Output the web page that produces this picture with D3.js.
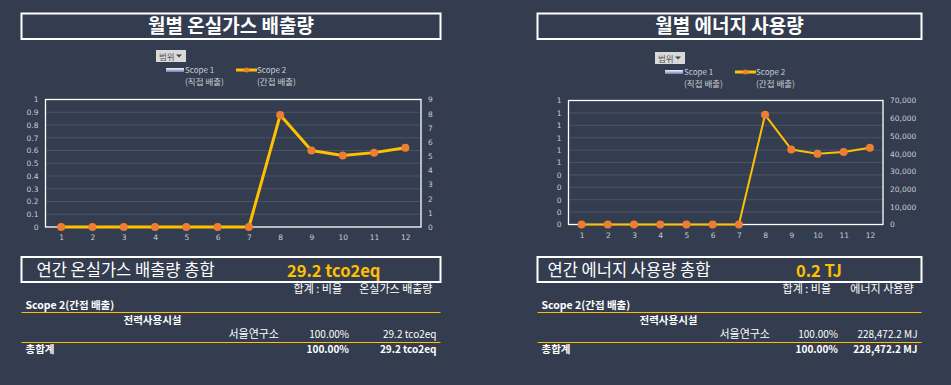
<!DOCTYPE html>
<html>
<head>
<meta charset="UTF-8"/>
<style>
  body { margin: 0; background: #333d4f; }
  svg { display: block; font-family: "Noto Sans CJK KR", "Noto Sans", sans-serif; }
</style>
</head>
<body>
<script src="https://d3js.org/d3.v7.min.js"></script>
<script>
// months on the x axis
const months = ["1", "2", "3", "4", "5", "6", "7", "8", "9", "10", "11", "12"];

// monthly GHG emissions, Scope 2 (tco2eq) - Scope 1 has no data
const ghgScope2 = [0, 0, 0, 0, 0, 0, 0, 7.9, 5.4, 5.05, 5.25, 5.6];
// monthly energy use, Scope 2 (MJ)
const energyScope2 = [0, 0, 0, 0, 0, 0, 0, 61900, 42400, 40000, 40900, 43272.2];

// left axis tick labels (Scope 1 axis, 0..1 step 0.1)
const ghgLeftTicks = ["0", "0.1", "0.2", "0.3", "0.4", "0.5", "0.6", "0.7", "0.8", "0.9", "1"];
const energyLeftTicks = ["0", "0", "0", "0", "0", "1", "1", "1", "1", "1", "1"];
// right axis ticks
const ghgRightTicks = [0, 1, 2, 3, 4, 5, 6, 7, 8, 9];
const energyRightTicks = [0, 10000, 20000, 30000, 40000, 50000, 60000, 70000];

const titles = ["월별 온실가스 배출량", "월별 에너지 사용량"];
const totalTitles = ["연간 온실가스 배출량 총합", "연간 에너지 사용량 총합"];
const totalValues = ["29.2 tco2eq", "0.2 TJ"];
const measureNames = ["온실가스 배출량", "에너지 사용량"];
const rowValues = ["29.2 tco2eq", "228,472.2 MJ"];

const W = 951, H = 385;
const svg = d3.select("body").append("svg").attr("width", W).attr("height", H);

const defs = svg.append("defs");
const grad = defs.append("linearGradient").attr("id", "s1grad")
  .attr("x1", 0).attr("y1", 0).attr("x2", 0).attr("y2", 1);
grad.append("stop").attr("offset", "0%").attr("stop-color", "#f2f4fa");
grad.append("stop").attr("offset", "100%").attr("stop-color", "#6a82bd");

const gold = "#ffc000";
const orange = "#ed7d31";
const tickColor = "#c9ccd2";

function drawPanel(p) {
  const g = svg.append("g");

  // title box
  g.append("rect").attr("x", p.boxX).attr("y", 13.5).attr("width", p.boxW).attr("height", 25.5)
    .attr("fill", "none").attr("stroke", "#fff").attr("stroke-width", 2);
  g.append("text").attr("x", p.boxX + p.boxW / 2).attr("y", 33).attr("text-anchor", "middle")
    .attr("fill", "#fff").attr("font-size", 19).attr("font-weight", "bold").text(p.title);

  // "범위" filter button
  g.append("rect").attr("x", p.btnX).attr("y", p.btnY).attr("width", 30).attr("height", 12)
    .attr("fill", "#d9d9d9");
  g.append("text").attr("x", p.btnX + 3).attr("y", p.btnY + 9.5).attr("font-size", 8.5)
    .attr("fill", "#555").text("범위");
  g.append("path").attr("d", `M${p.btnX + 20},${p.btnY + 4.5}h6l-3,3z`).attr("fill", "#444");

  // legend
  const ly = p.btnY + 20;
  g.append("rect").attr("x", p.legX).attr("y", ly - 2).attr("width", 18).attr("height", 4)
    .attr("fill", "url(#s1grad)");
  g.append("text").attr("x", p.legX + 19).attr("y", ly + 3).attr("font-size", 8).attr("fill", tickColor).text("Scope 1");
  g.append("text").attr("x", p.legX + 19).attr("y", ly + 15).attr("font-size", 8.5).attr("fill", tickColor).text("(직접 배출)");
  const l2 = p.legX + 70;
  g.append("line").attr("x1", l2).attr("x2", l2 + 21).attr("y1", ly).attr("y2", ly)
    .attr("stroke", gold).attr("stroke-width", 3);
  g.append("circle").attr("cx", l2 + 10.5).attr("cy", ly).attr("r", 2.5).attr("fill", orange);
  g.append("text").attr("x", l2 + 21).attr("y", ly + 3).attr("font-size", 8).attr("fill", tickColor).text("Scope 2");
  g.append("text").attr("x", l2 + 21).attr("y", ly + 15).attr("font-size", 8.5).attr("fill", tickColor).text("(간접 배출)");

  // scales
  const x = d3.scalePoint().domain(months).range([p.left, p.right]).padding(0.5);
  const yL = d3.scaleLinear().domain([0, 1]).range([p.bottom, p.top]);
  const yR = d3.scaleLinear().domain([0, p.rightMax]).range([p.bottom, p.top]);

  // gridlines from left axis
  g.append("g").selectAll("line").data(d3.range(1, 10).map(i => i / 10)).join("line")
    .attr("x1", p.left).attr("x2", p.right)
    .attr("y1", d => yL(d)).attr("y2", d => yL(d))
    .attr("stroke", "#4a5465").attr("stroke-width", 1);

  // plot area border
  g.append("rect").attr("x", p.left).attr("y", p.top).attr("width", p.right - p.left)
    .attr("height", p.bottom - p.top).attr("fill", "none").attr("stroke", "#fff").attr("stroke-width", 1.3);

  // axes
  const axL = g.append("g").attr("transform", `translate(${p.left - 4},0)`)
    .call(d3.axisLeft(yL).tickValues(d3.range(0, 11).map(i => i / 10)).tickSize(0)
      .tickFormat((d, i) => p.leftTicks[i]));
  const axR = g.append("g").attr("transform", `translate(${p.right + 4},0)`)
    .call(d3.axisRight(yR).tickValues(p.rightTicks).tickSize(0).tickFormat(d3.format(",")));
  const axX = g.append("g").attr("transform", `translate(0,${p.bottom + 5})`)
    .call(d3.axisBottom(x).tickSize(0));
  [axL, axR, axX].forEach(a => {
    a.select(".domain").remove();
    a.selectAll("text").attr("fill", tickColor).attr("font-size", 7.5)
      .attr("font-family", "'DejaVu Sans', sans-serif");
  });

  // line + markers
  const line = d3.line().x((d, i) => x(months[i])).y(d => yR(d));
  g.append("path").datum(p.values).attr("d", line).attr("fill", "none")
    .attr("stroke", gold).attr("stroke-width", p.lineW).attr("stroke-linejoin", "round");
  g.append("g").selectAll("circle").data(p.values).join("circle")
    .attr("cx", (d, i) => x(months[i])).attr("cy", d => yR(d)).attr("r", 4).attr("fill", orange);

  // total box
  g.append("rect").attr("x", p.boxX).attr("y", 257).attr("width", p.boxW).attr("height", 25)
    .attr("fill", "none").attr("stroke", "#fff").attr("stroke-width", 2);
  g.append("text").attr("x", p.boxX + p.totTitleDx).attr("y", 276).attr("fill", "#fff")
    .attr("font-size", 16.5).text(p.totalTitle);
  g.append("text").attr("x", p.totValX).attr("y", 276.5).attr("fill", gold)
    .attr("font-size", 16.5).attr("font-weight", "bold").text(p.totalValue);

  // summary table
  const bx = p.boxX;
  const be = p.boxX + p.boxW;
  const tf = 10.5;
  g.append("text").attr("x", p.colPct - 7).attr("y", 293).attr("text-anchor", "end").attr("fill", "#fff")
    .attr("font-size", 11).text("합계 : 비율");
  g.append("text").attr("x", be - 8).attr("y", 293).attr("text-anchor", "end").attr("fill", "#fff")
    .attr("font-size", 11).text(p.measure);
  g.append("text").attr("x", bx + 4).attr("y", 308.5).attr("fill", "#fff").attr("font-size", 10.5)
    .attr("font-weight", "bold").text("Scope 2(간접 배출)");
  g.append("line").attr("x1", bx).attr("x2", be).attr("y1", 312.5).attr("y2", 312.5)
    .attr("stroke", gold).attr("stroke-width", 1);
  g.append("text").attr("x", bx + 102).attr("y", 323.5).attr("fill", "#fff").attr("font-size", tf)
    .attr("font-weight", "bold").text("전력사용시설");
  g.append("text").attr("x", p.colName).attr("y", 338).attr("text-anchor", "end").attr("fill", "#fff")
    .attr("font-size", 11).text("서울연구소");
  g.append("text").attr("x", p.colPct).attr("y", 338).attr("text-anchor", "end").attr("fill", "#fff")
    .attr("font-size", 10).text("100.00%");
  g.append("text").attr("x", be - 4).attr("y", 338).attr("text-anchor", "end").attr("fill", "#fff")
    .attr("font-size", 10).text(p.rowValue);
  g.append("line").attr("x1", bx).attr("x2", be).attr("y1", 342.5).attr("y2", 342.5)
    .attr("stroke", gold).attr("stroke-width", 1);
  g.append("text").attr("x", bx + 4).attr("y", 353).attr("fill", "#fff").attr("font-size", tf)
    .attr("font-weight", "bold").text("총합계");
  g.append("text").attr("x", p.colPct).attr("y", 353).attr("text-anchor", "end").attr("fill", "#fff")
    .attr("font-size", 10).attr("font-weight", "bold").text("100.00%");
  g.append("text").attr("x", be - 4).attr("y", 353).attr("text-anchor", "end").attr("fill", "#fff")
    .attr("font-size", 10).attr("font-weight", "bold").text(p.rowValue);
}

drawPanel({
  title: titles[0], boxX: 21.5, boxW: 419,
  btnX: 156, btnY: 50, legX: 166,
  left: 45.5, right: 421, top: 99.5, bottom: 227,
  leftTicks: ghgLeftTicks, rightTicks: ghgRightTicks, rightMax: 9,
  values: ghgScope2, lineW: 3,
  totalTitle: totalTitles[0], totalValue: totalValues[0], totTitleDx: 15, totValX: 287,
  measure: measureNames[0], rowValue: rowValues[0],
  colPct: 349, colName: 279
});

drawPanel({
  title: titles[1], boxX: 537.5, boxW: 384,
  btnX: 655, btnY: 52, legX: 665,
  left: 568.5, right: 883, top: 100.5, bottom: 224.5,
  leftTicks: energyLeftTicks, rightTicks: energyRightTicks, rightMax: 70000,
  values: energyScope2, lineW: 2,
  totalTitle: totalTitles[1], totalValue: totalValues[1], totTitleDx: 10, totValX: 796,
  measure: measureNames[1], rowValue: rowValues[1],
  colPct: 838, colName: 770
});
</script>
</body>
</html>
